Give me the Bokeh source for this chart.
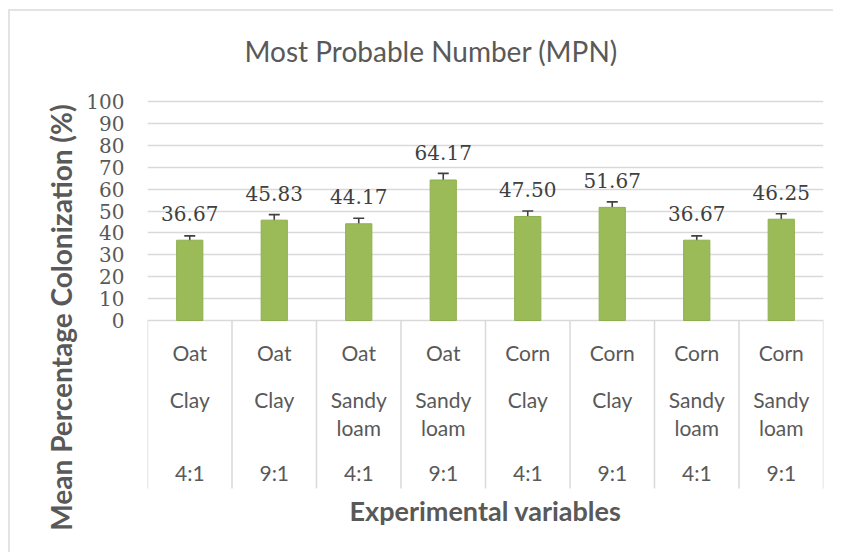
from bokeh.plotting import figure
from bokeh.models import (Range1d, FixedTicker, ColumnDataSource, Whisker,
                          TeeHead, Title)
from bokeh.core.properties import value
from bokeh.embed import file_html
from bokeh.resources import INLINE

# ---------------- data ----------------
crops = ["Oat", "Oat", "Oat", "Oat", "Corn", "Corn", "Corn", "Corn"]
soils = ["Clay", "Clay", "Sandy loam", "Sandy loam",
         "Clay", "Clay", "Sandy loam", "Sandy loam"]
ratios = ["4:1", "9:1", "4:1", "9:1", "4:1", "9:1", "4:1", "9:1"]
mpn = [36.67, 45.83, 44.17, 64.17, 47.50, 51.67, 36.67, 46.25]
err = [2.0, 2.5, 2.5, 3.0, 2.5, 2.5, 2.0, 2.5]
y_ticks = [0, 10, 20, 30, 40, 50, 60, 70, 80, 90, 100]

title_text = "Most Probable Number (MPN)"
x_title = "Experimental variables"
y_title = "Mean Percentage Colonization (%)"

# ---------------- derived ----------------
n = len(mpn)
xc = [i + 0.5 for i in range(n)]
soil1 = [s.split(" ", 1)[0] for s in soils]
soil2 = [s.split(" ", 1)[1] if " " in s else "" for s in soils]

src = ColumnDataSource(dict(
    x=xc, top=mpn, lower=[m - e for m, e in zip(mpn, err)],
    upper=[m + e for m, e in zip(mpn, err)],
    label=[f"{m:.2f}" for m in mpn],
    crop=crops, soil1=soil1, soil2=soil2, ratio=ratios,
    zero=[0] * n,
))
sep_x = list(range(n + 1))

# layout constant: depth of the category box (data units below zero)
SEP_DEPTH = -76.7

GRID = "#D9D9D9"
TXT = "#595959"
SANS = "Lato"
SERIF = "DejaVu Serif"

p = figure(width=825, height=543, output_backend="svg", toolbar_location=None,
           x_range=Range1d(0, n), y_range=Range1d(-106.85, 109.6),
           min_border_left=137, min_border_right=12, min_border_top=69,
           min_border_bottom=0, outline_line_color=None,
           background_fill_color="white", border_fill_color="white")
p.styles = {"margin-left": "8px", "margin-top": "9px",
            "border-top": "2px solid #E3E3E3",
            "border-left": "2px solid #E3E3E3"}

t = Title(text=title_text, align="left", offset=97, vertical_align="top",
          text_font=SANS, text_font_size="28px", text_font_style="normal",
          text_color=TXT, standoff=22)
p.add_layout(t, "above")

# axes
p.xaxis.visible = False
p.yaxis.ticker = FixedTicker(ticks=y_ticks)
p.yaxis.axis_line_color = None
p.yaxis.major_tick_line_color = None
p.yaxis.minor_tick_line_color = None
p.yaxis.major_label_standoff = 17
p.yaxis.major_label_text_font = SERIF
p.yaxis.major_label_text_font_size = "20px"
p.yaxis.major_label_text_color = TXT
p.yaxis.axis_label = y_title
p.yaxis.axis_label_text_font = SANS
p.yaxis.axis_label_text_font_size = "28px"
p.yaxis.axis_label_text_font_style = "bold"
p.yaxis.axis_label_text_color = TXT
p.yaxis.axis_label_standoff = 5

p.xgrid.visible = False
p.ygrid.ticker = FixedTicker(ticks=y_ticks)
p.ygrid.grid_line_color = GRID
p.ygrid.grid_line_width = 1.5

# category box separators
p.segment(x0=sep_x, x1=sep_x, y0=[0] * (n + 1), y1=[SEP_DEPTH] * (n + 1),
          line_color=GRID, line_width=1.5)

# bars
p.vbar(x="x", top="top", bottom=0, width=0.31, source=src,
       fill_color="#9BBB59", line_color="#8FAF4E", line_width=1)

# error bars
wh = Whisker(base="x", upper="upper", lower="lower", source=src,
             line_color="#404040", line_width=1.6,
             upper_head=TeeHead(size=11, line_color="#404040", line_width=1.6),
             lower_head=TeeHead(size=11, line_color="#404040", line_width=1.6))
p.add_layout(wh)

# value labels
p.text(x="x", y="top", text="label", source=src, y_offset=-27,
       text_align="center", text_baseline="alphabetic",
       text_font=value(SERIF), text_font_size="20px", text_color="#404040")

# category labels
for col, off in (("crop", 32), ("soil1", 79), ("soil2", 107), ("ratio", 152)):
    p.text(x="x", y="zero", text=col, source=src, y_offset=off,
           text_align="center", text_baseline="alphabetic",
           text_font=value(SANS), text_font_size="21px", text_color=TXT)

# x-axis title (under the category box)
p.text(x=[n / 2], y=[0], text=[x_title], y_offset=190,
       text_align="center", text_baseline="alphabetic",
       text_font=value(SANS), text_font_size="27px",
       text_font_style="bold", text_color=TXT)

open("out.html", "w").write(file_html(p, INLINE))
